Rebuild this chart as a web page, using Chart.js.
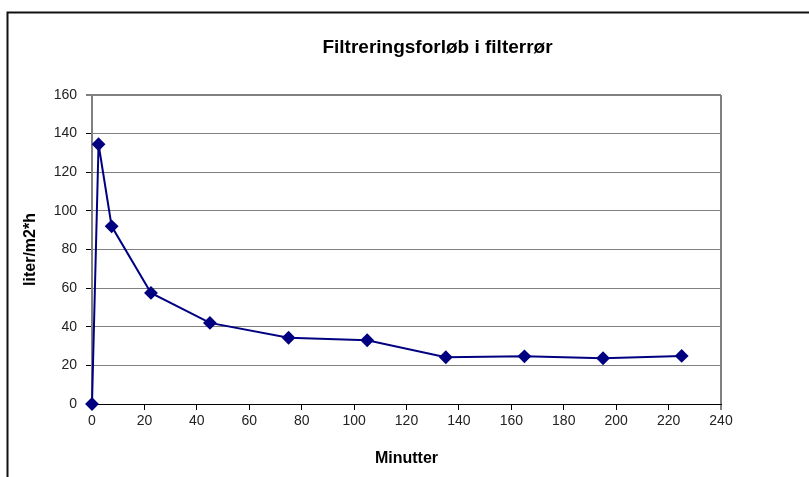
<!DOCTYPE html>
<html>
<head>
<meta charset="utf-8">
<script src="https://cdn.jsdelivr.net/npm/chart.js@4/dist/chart.umd.min.js"></script>
<style>
  html, body { margin: 0; padding: 0; background: #fff; }
  #c { display: block; }
</style>
</head>
<body>
<canvas id="c" width="809" height="477"></canvas>
<script>
// Filtration run: flux (liter/m2*h) against elapsed time (minutes)
const minutes = [0, 2.5, 7.5, 22.5, 45, 75, 105, 135, 165, 195, 225];
const flux    = [0, 134.5, 92, 57.5, 42, 34.3, 33, 24.2, 24.7, 23.7, 24.9];

const chartTitle = 'Filtreringsforløb i filterrør';
const xTitle = 'Minutter';
const yTitle = 'liter/m2*h';

const FONT = '"Liberation Sans", Arial, sans-serif';

// Outer frame and centred heading
const framePlugin = {
  id: 'frame',
  beforeDraw(chart) {
    const ctx = chart.ctx;
    ctx.save();
    ctx.fillStyle = '#fff';
    ctx.fillRect(0, 0, chart.width, chart.height);
    ctx.strokeStyle = '#111';
    ctx.lineWidth = 2;
    ctx.beginPath();
    ctx.moveTo(7.5, chart.height);
    ctx.lineTo(7.5, 12.5);
    ctx.lineTo(chart.width, 12.5);
    ctx.stroke();
    ctx.restore();
  },
  afterDraw(chart) {
    const ctx = chart.ctx;
    ctx.save();
    ctx.fillStyle = '#000';
    ctx.font = 'bold 19px ' + FONT;
    ctx.textAlign = 'center';
    ctx.textBaseline = 'alphabetic';
    ctx.fillText(chartTitle, 437.5, 53);
    ctx.restore();
  }
};

new Chart(document.getElementById('c'), {
  type: 'line',
  data: {
    datasets: [{
      data: minutes.map((m, i) => ({ x: m, y: flux[i] })),
      borderColor: '#000080',
      backgroundColor: '#000080',
      borderWidth: 2,
      tension: 0,
      pointStyle: 'rectRot',
      pointRadius: 5.5,
      pointHoverRadius: 5.5,
      pointBackgroundColor: '#000080',
      pointBorderColor: '#000080',
      clip: false
    }]
  },
  options: {
    responsive: false,
    devicePixelRatio: 1,
    animation: false,
    events: [],
    layout: { padding: { top: 95, right: 88, left: 0, bottom: 0 } },
    plugins: {
      legend: { display: false },
      title: { display: false },
      tooltip: { enabled: false }
    },
    scales: {
      x: {
        type: 'linear',
        min: 0,
        max: 240,
        afterFit(scale) { scale.height = 73; },
        ticks: {
          stepSize: 20,
          color: '#222',
          padding: 3,
          maxRotation: 0,
          font: { family: FONT, size: 14 }
        },
        grid: {
          drawOnChartArea: true,
          color: (c) => (c.tick && c.tick.value === 240 ? '#808080' : 'rgba(0,0,0,0)'),
          lineWidth: (c) => (c.tick && c.tick.value === 240 ? 2 : 1),
          tickColor: '#000',
          tickLength: 6,
          tickWidth: 1
        },
        border: { display: true, color: '#000', width: 1 },
        title: {
          display: true,
          text: xTitle,
          color: '#000',
          font: { family: FONT, size: 16, weight: 'bold' },
          padding: { top: 0, bottom: 9 }
        }
      },
      y: {
        min: 0,
        max: 160,
        afterFit(scale) { scale.width = 92; },
        ticks: {
          stepSize: 20,
          color: '#222',
          padding: 9,
          font: { family: FONT, size: 14 }
        },
        grid: {
          color: '#808080',
          lineWidth: (c) => (c.tick && c.tick.value === 160 ? 2 : 1),
          tickColor: '#000',
          tickLength: 6,
          tickWidth: 1
        },
        border: { display: true, color: '#808080', width: 2 },
        title: {
          display: true,
          text: yTitle,
          color: '#000',
          font: { family: FONT, size: 16, weight: 'bold' },
          padding: { top: 21, bottom: 0 }
        }
      }
    }
  },
  plugins: [framePlugin]
});
</script>
</body>
</html>
